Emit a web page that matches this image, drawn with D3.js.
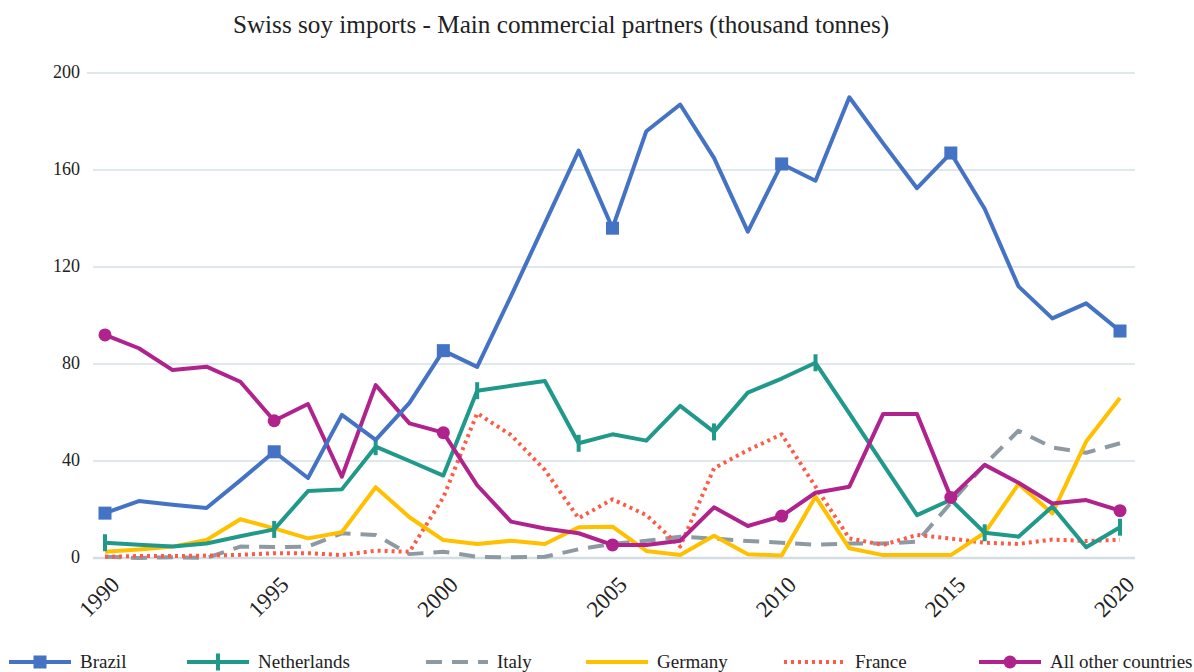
<!DOCTYPE html>
<html>
<head>
<meta charset="utf-8">
<script src="https://cdn.jsdelivr.net/npm/d3@7"></script>
<style>
  body { margin: 0; background: #fff; }
  svg text { font-family: "Liberation Serif", "Times New Roman", serif; fill: #222; }
</style>
</head>
<body>
<svg id="chart" width="1194" height="672"></svg>
<script>
// ─── Swiss soy imports by partner, 1990-2020 (thousand tonnes) ───
const years = d3.range(1990, 2021);
const yTicks = [0, 40, 80, 120, 160, 200];
const xTicks = [1990, 1995, 2000, 2005, 2010, 2015, 2020];

const brazil = [18.5, 23.5, 22, 20.6, 32, 43.8, 33, 59, 48.7, 64, 85.5, 78.8, 108, 138, 168, 136, 176, 187, 165, 134.6, 162.5, 155.6, 190, 171, 152.5, 167, 144, 112, 98.8, 105, 93.6];
const netherlands = [6.3, 5.5, 4.7, 6, 9, 11.8, 27.6, 28.3, 45.9, 40, 34, 69, 71, 73, 47.3, 51, 48.4, 62.7, 52, 68.2, 74, 80.5, 59.6, 38.6, 17.7, 24, 10.4, 8.8, 21.2, 4.4, 12.7];
const italy = [0.5, 0, 0.3, 0, 4.7, 4.5, 4.7, 10.2, 9.5, 1.6, 2.6, 0.5, 0.3, 0.5, 3.6, 5.8, 7.1, 8.8, 8, 7, 6.3, 5.5, 6, 6, 6.7, 22.7, 38.5, 52.5, 45.6, 43.4, 47.3];
const germany = [2.6, 3.5, 4.7, 7.4, 16, 12.2, 8.1, 10.6, 29.2, 16.8, 7.4, 5.8, 7.1, 5.8, 12.7, 12.9, 2.9, 1.2, 9.2, 1.5, 1, 25.3, 4, 1.2, 1.2, 1.2, 10.4, 30.5, 18.4, 48, 66];
const france = [0.5, 0.8, 0.8, 1, 1.3, 2, 2, 1.2, 3, 2.6, 25, 59.7, 50.7, 36.3, 16.4, 24.2, 17.7, 4.7, 37, 44.5, 51, 29.4, 8.1, 5.4, 9.5, 8, 6.3, 5.8, 7.6, 7, 7.5];
const others = [92, 86.5, 77.5, 78.9, 72.7, 56.6, 63.5, 33.5, 71.3, 55.5, 51.7, 30, 15, 12.2, 10.2, 5.4, 5.4, 7.1, 20.9, 13.2, 17.3, 26.9, 29.4, 59.4, 59.4, 25, 38.4, 31, 22.5, 23.9, 19.5];

// years that carry a marker on each series
const brazilMarks = [1990, 1995, 2000, 2005, 2010, 2015, 2020];
const netherlandsMarks = [1990, 1995, 1998, 2001, 2004, 2008, 2011, 2016, 2020];
const othersMarks = [1990, 1995, 2000, 2005, 2010, 2015, 2020];

const series = [
  { name: 'Brazil', values: brazil, color: '#4472c4', dash: null, marker: 'square', marks: brazilMarks, legendX: 9 },
  { name: 'Netherlands', values: netherlands, color: '#21998a', dash: null, marker: 'tick', marks: netherlandsMarks, legendX: 187 },
  { name: 'Italy', values: italy, color: '#8d9aa3', dash: '16,10', marker: null, marks: [], legendX: 426 },
  { name: 'Germany', values: germany, color: '#ffc000', dash: null, marker: null, marks: [], legendX: 586 },
  { name: 'France', values: france, color: '#ff5a45', dash: '3,4', marker: null, marks: [], legendX: 784 },
  { name: 'All other countries', values: others, color: '#b0228c', dash: null, marker: 'circle', marks: othersMarks, legendX: 979 }
];

const svg = d3.select('#chart');
const x = d3.scaleLinear().domain([1990, 2020]).range([105, 1120]);
const y = d3.scaleLinear().domain([0, 200]).range([558, 73]);
const LW = 4;

// Title
svg.append('text')
  .attr('x', 561).attr('y', 33)
  .attr('text-anchor', 'middle')
  .attr('font-size', 25.2)
  .text('Swiss soy imports - Main commercial partners (thousand tonnes)');

// Gridlines
svg.append('g')
  .selectAll('line')
  .data(yTicks)
  .enter()
  .append('line')
  .attr('x1', d => d === 200 ? 87 : 93)
  .attr('x2', 1135)
  .attr('y1', d => y(d)).attr('y2', d => y(d))
  .attr('stroke', d => d === 0 ? '#d3dde2' : '#dfe8eb')
  .attr('stroke-width', d => d === 0 ? 2.5 : 1.8);

// Y axis labels
svg.append('g')
  .selectAll('text')
  .data(yTicks)
  .enter()
  .append('text')
  .attr('x', 80)
  .attr('y', d => y(d) + 5)
  .attr('text-anchor', 'end')
  .attr('font-size', 18)
  .text(d => d);

// X axis labels (rotated)
svg.append('g')
  .selectAll('text')
  .data(xTicks)
  .enter()
  .append('text')
  .attr('text-anchor', 'end')
  .attr('font-size', 23)
  .attr('transform', d => `translate(${x(d) + 16},${586}) rotate(-45)`)
  .text(d => d);

// Lines
const line = d3.line()
  .x((d, i) => x(years[i]))
  .y(d => y(d));

const drawOrder = ['Italy', 'France', 'Germany', 'Netherlands', 'All other countries', 'Brazil'];
drawOrder.forEach(name => {
  const s = series.find(d => d.name === name);
  svg.append('path')
    .datum(s.values)
    .attr('fill', 'none')
    .attr('stroke', s.color)
    .attr('stroke-width', LW)
    .attr('stroke-linejoin', 'round')
    .attr('stroke-dasharray', s.dash)
    .attr('d', line);

  if (!s.marker) return;
  const pts = s.marks.map(yr => [x(yr), y(s.values[years.indexOf(yr)])]);
  drawMarkers(svg, s, pts);
});

function drawMarkers(g, s, coords) {
  coords.forEach(([cx, cy]) => {
    if (s.marker === 'square') {
      g.append('rect').attr('x', cx - 6.5).attr('y', cy - 6.5).attr('width', 13).attr('height', 13).attr('fill', s.color);
    } else if (s.marker === 'circle') {
      g.append('circle').attr('cx', cx).attr('cy', cy).attr('r', 6.5).attr('fill', s.color);
    } else if (s.marker === 'tick') {
      g.append('line').attr('x1', cx).attr('x2', cx).attr('y1', cy - 8.5).attr('y2', cy + 8.5)
        .attr('stroke', s.color).attr('stroke-width', LW);
    }
  });
}

// Legend
const legendY = 662;
series.forEach(s => {
  const lg = svg.append('g');
  const x0 = s.legendX;
  lg.append('line')
    .attr('x1', x0).attr('x2', x0 + 62)
    .attr('y1', legendY).attr('y2', legendY)
    .attr('stroke', s.color)
    .attr('stroke-width', LW)
    .attr('stroke-dasharray', s.dash);
  if (s.marker) drawMarkers(lg, s, [[x0 + 31, legendY]]);
  lg.append('text')
    .attr('x', x0 + 71)
    .attr('y', legendY + 6)
    .attr('font-size', 19)
    .text(s.name);
});
</script>
</body>
</html>
